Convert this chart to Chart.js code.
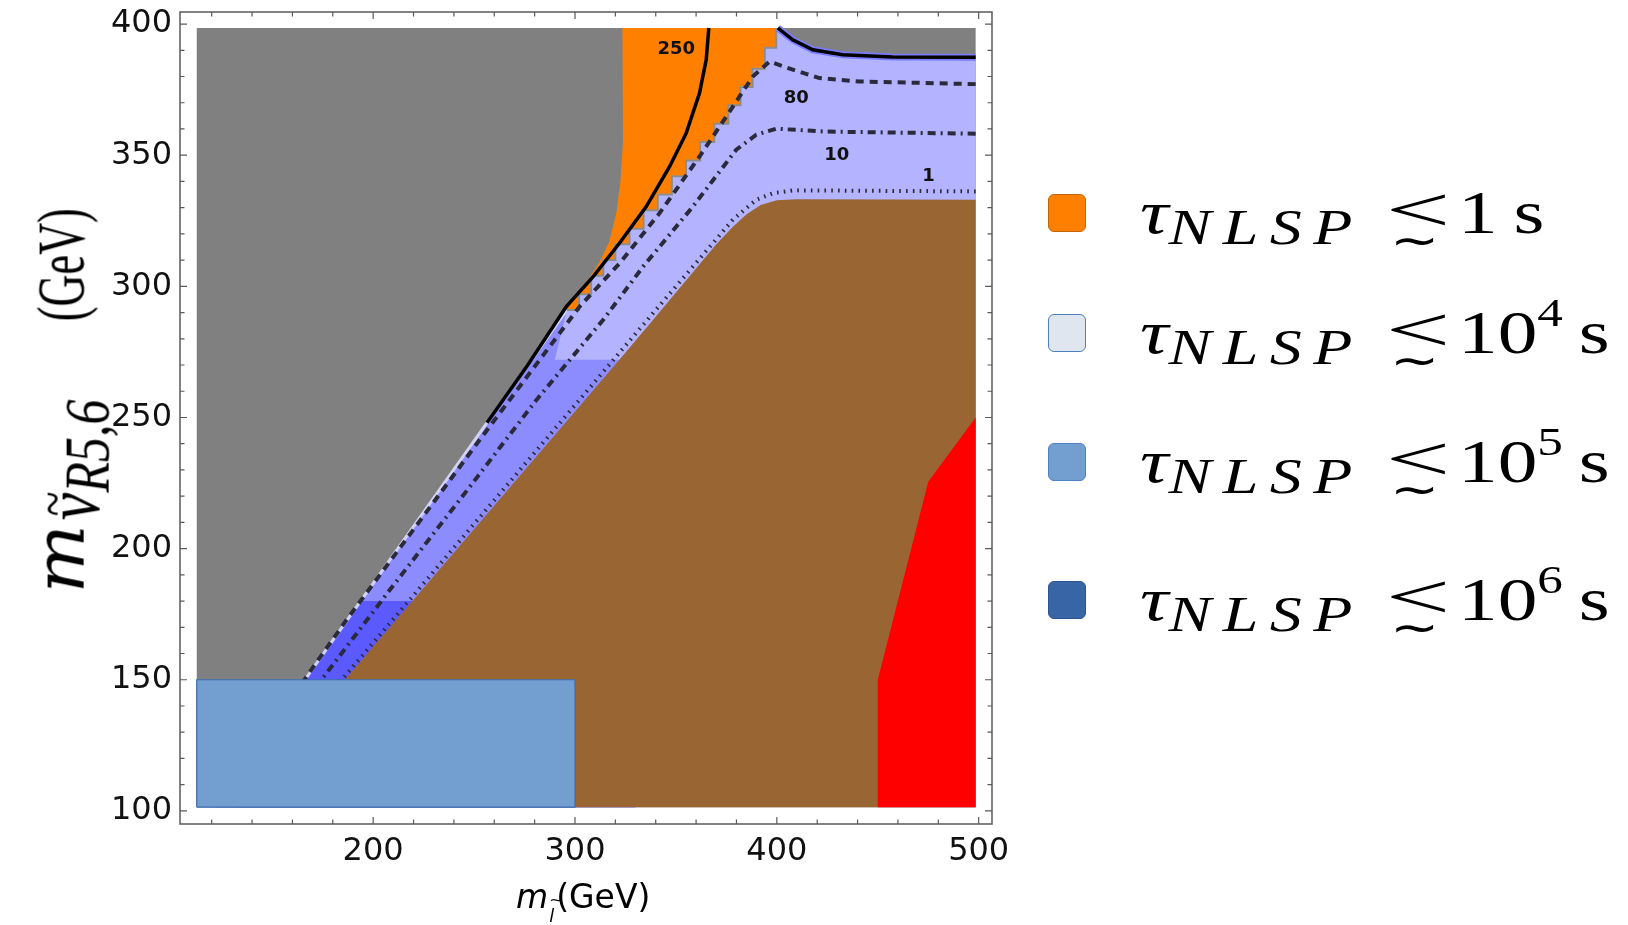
<!DOCTYPE html>
<html>
<head>
<meta charset="utf-8">
<script src="https://cdn.jsdelivr.net/npm/chart.js@4.4.1/dist/chart.umd.min.js"></script>
<style>
  html, body { margin: 0; padding: 0; background: #fff; }
  #wrap { position: relative; width: 1628px; height: 925px; overflow: hidden; }
  #plot { position: absolute; left: 0; top: 0; }
  .ytitle {
    position: absolute; left: 58px; top: 401px;
    transform: translate(-50%, -50%) scaleX(1.25) rotate(-90deg);
    font-family: "Liberation Serif", serif; font-size: 46px; white-space: nowrap; color: #000;
  }
  .ytitle .m {
    display: inline-block; font-family: "DejaVu Serif", serif; font-style: italic; font-size: 56px;
    transform: scaleX(1.3); transform-origin: left bottom; margin-right: 20px;
  }
  .ytitle .nu { font-style: italic; font-size: 62px; position: relative; top: 12px; display: inline-block; }
  .ytitle .r { font-size: 50px; position: relative; top: 8px; }
  .tl { position: absolute; left: 0; right: 0; text-align: center; font-style: normal; }
  .ytitle .nu > .tl { top: -8px; font-size: 46px; left: 4px; right: auto; }
  .ytitle .gev {
    display: inline-block; font-size: 54px; margin-left: 78px; margin-right: -25px;
    transform: scaleX(0.82); transform-origin: left bottom;
  }
  .xtitle {
    position: absolute; left: 516px; top: 877px;
    font-family: "DejaVu Sans", sans-serif; font-size: 33px; color: #000; white-space: nowrap;
  }
  .xtitle .sub { font-size: 18px; font-style: italic; position: relative; top: 14px; display: inline-block; margin: 0 2px 0 1px; }
  .xtitle .sub > .tl { top: -15px; font-size: 16px; }
  .legend { position: absolute; left: 1048px; top: 0; }
  .legend .row { position: absolute; left: 0; height: 40px; white-space: nowrap; }
  .legend .sw { position: absolute; left: 0; top: 0; width: 36px; height: 36px; border-radius: 6px; border: 1px solid; }
  .legend .lab {
    position: absolute; left: 92px; top: -17px;
    transform: scaleX(1.28); transform-origin: left center;
    font-family: "Liberation Serif", serif; font-size: 62px; color: #000;
  }
  .legend .tau { font-style: italic; }
  .legend .sub { font-style: italic; font-size: 50px; letter-spacing: 9px; position: relative; top: 11px; }
  .legend .le { display: inline-block; position: relative; width: 42px; margin: 0 14px 0 2px; }
  .legend .le .lt {
    display: block; font-size: 64px; line-height: 1; position: relative; top: -2px;
    transform: scaleX(1.4); transform-origin: left center;
  }
  .legend .le .sim {
    position: absolute; left: 3px; top: 38px; font-size: 46px; line-height: 1;
  }
  .legend sup { font-size: 40px; position: relative; top: -8px; vertical-align: top; }
</style>
</head>
<body>
<div id="wrap">
  <canvas id="plot" width="1628" height="925"></canvas>
  <div class="ytitle"><span class="m">m</span><span class="nu">ν<span class="tl">~</span><span class="r"><i>R</i>5,6</span></span><span class="gev">(GeV)</span></div>
  <div class="xtitle"><i>m</i><span class="sub">l<span class="tl">~</span></span>(GeV)</div>
  <div class="legend" id="legend"></div>
</div>
<script>
// plot window in GeV
const xLimits = [104.3, 506.6];
const yLimits = [95, 404.6];
const xTickValues = [120, 140, 160, 180, 200, 220, 240, 260, 280, 300, 320, 340, 360, 380, 400, 420, 440, 460, 480, 500];
const xTickLabels = [200, 300, 400, 500];
const yTickValues = [100, 110, 120, 130, 140, 150, 160, 170, 180, 190, 200, 210, 220, 230, 240, 250, 260, 270, 280, 290,
  300, 310, 320, 330, 340, 350, 360, 370, 380, 390, 400];
const yTickLabels = [100, 150, 200, 250, 300, 350, 400];

// regions, [m_slepton, m_sneutrino]
const scanRegion = [[112.6, 101.4], [498.5, 101.4], [498.5, 398.5], [112.6, 398.5]];
const bandMid = [[121.5, 101.4], [296, 291], [330, 291], [330, 101.4]];
const bandDeep = [[121.5, 101.4], [193.8, 180], [330, 180], [330, 101.4]];
const bandEdge = [[121.5, 101.4], [296, 291]];
const orangeLeft = [[323.5, 398.5], [323.8, 355], [322.5, 340], [320.5, 328], [317, 317], [312, 309], [306, 302], [299, 295], [296, 291]];
const stairEdge = [[296, 291], [302, 291], [302, 297], [308, 297], [308, 304], [314, 304], [314, 310], [320, 310], [320, 316],
  [327, 316], [327, 322], [334, 322], [334, 329], [341, 329], [341, 335], [348, 335], [348, 342], [355, 342], [355, 348],
  [362, 348], [362, 355], [369, 355], [369, 362], [376, 362], [376, 369], [382, 369], [382, 376], [388, 376], [388, 383],
  [394, 383], [394, 391], [399.7, 391], [399.7, 398.5]];
const lightFloor = [[290, 272], [498.5, 272], [498.5, 387.3]];
const brownRegion = [[132, 101.4], [186, 150], [322, 272], [338.6, 287.2], [370, 316], [378, 322.5], [385, 327.5], [392, 331],
  [400, 332.8], [410, 333.2], [498.5, 333], [498.5, 101.4]];
const redRegion = [[450, 101.4], [450, 150], [475, 225.5], [498.5, 250], [498.5, 101.4]];
const lepBox = [[112.6, 101.4], [300, 101.4], [300, 150], [112.6, 150], [112.6, 101.4]];

// lifetime contours
const c250Left = [[366.3, 398.5], [365, 386.4], [361.7, 373.7], [355.1, 358.4], [346.9, 345.7], [335.3, 330.4], [322.1, 316.5],
  [309, 303.7], [295.7, 292.3], [276.6, 270], [256.4, 248]];
const c250Right = [[400.5, 398.5], [407.9, 394], [417.8, 390.2], [432.7, 388.3], [457.4, 387.4], [498.5, 387.3]];
const c80 = [[498.5, 377.1], [440.9, 378.1], [421.1, 379.4], [407.9, 382.6], [396.4, 385.7], [388.1, 380], [375, 364.8],
  [361.7, 349.5], [341.9, 327.9], [322.1, 308.8], [302.3, 292.3], [252.8, 241.5], [214.9, 202], [186.8, 172.8], [167, 151.2], [150, 131]];
const c10 = [[498.5, 358.2], [424.4, 359], [399.7, 360.1], [389.8, 357.8], [379.9, 352.1], [358.4, 330.4], [333.7, 307.5],
  [313.9, 287.2], [280.9, 256.7], [247.9, 223.6], [208.3, 184.3], [174.4, 150], [155, 130]];
const c1 = [[498.5, 336.2], [407.9, 336.6], [398, 335.5], [389.8, 333], [378.2, 325.4], [358.4, 307.5], [338.6, 289.7],
  [184.5, 150], [160, 128]];
const contourLabels = ["250", "80", "10", "1"];
const contourLabelX = [350.2, 409.6, 429.7, 475.2];
const contourLabelY = [390.2, 371.8, 349.8, 341.9];

// legend
const legendFill = ["#ff8000", "#dfe6ef", "#739fd0", "#3765a6"];
const legendEdge = ["#c0650c", "#4f7fbf", "#4f7fbf", "#2b5590"];
const legendPower = ["1", "10^4", "10^5", "10^6"];
const legendTop = [194, 314, 443, 581];

function pts(list) {
  return list.map(([x, y]) => ({ x, y }));
}

function area(list, color) {
  return { data: pts(list), showLine: true, fill: "shape", backgroundColor: color, borderWidth: 0, pointRadius: 0 };
}

function curve(list, color, width, dash) {
  return { data: pts(list), showLine: true, fill: false, borderColor: color, borderWidth: width,
    borderDash: dash || [], borderCapStyle: "butt", pointRadius: 0 };
}

const lightRegion = stairEdge.slice().reverse().concat(lightFloor, c250Right.slice().reverse());
const orangeRegion = orangeLeft.concat(stairEdge.slice(1));

// bottom layer first
const layers = [
  area(scanRegion, "#808080"),
  area(bandMid, "#8c8cff"),
  area(bandDeep, "#5a5aff"),
  curve(bandEdge, "#d2d2f2", 3),
  area(lightRegion, "#b3b3ff"),
  area(orangeRegion, "#ff8000"),
  curve(stairEdge, "#8d8d8d", 2),
  area(brownRegion, "#996633"),
  area(redRegion, "#ff0000"),
  curve(c1, "#2a2a3c", 4, [1.6, 5.2]),
  curve(c10, "#2a2a3c", 4, [8, 5, 2, 5]),
  curve(c80, "#2a2a3c", 4, [8, 6]),
  curve(c250Right, "#7b7bff", 7),
  curve(c250Right, "#000000", 3.5),
  curve(c250Left, "#000000", 3.5),
  Object.assign(area(lepBox, "#739fd0"), { borderWidth: 1.2, borderColor: "#3a6db0" }),
];
layers.forEach((ds, i) => { ds.order = layers.length - i; });

const frameTicks = {
  id: "frameTicks",
  afterDraw(chart) {
    const { ctx, chartArea: a, scales: { x, y } } = chart;
    ctx.save();
    ctx.strokeStyle = "#5a5a5a";
    ctx.lineWidth = 1.5;
    ctx.strokeRect(a.left, a.top, a.right - a.left, a.bottom - a.top);
    ctx.lineWidth = 1.2;
    ctx.beginPath();
    xTickValues.forEach((v) => {
      const px = x.getPixelForValue(v);
      const len = xTickLabels.includes(v) ? 7 : 4.5;
      ctx.moveTo(px, a.bottom); ctx.lineTo(px, a.bottom - len);
      ctx.moveTo(px, a.top); ctx.lineTo(px, a.top + len);
    });
    yTickValues.forEach((v) => {
      const py = y.getPixelForValue(v);
      const len = yTickLabels.includes(v) ? 7 : 4.5;
      ctx.moveTo(a.left, py); ctx.lineTo(a.left + len, py);
      ctx.moveTo(a.right, py); ctx.lineTo(a.right - len, py);
    });
    ctx.stroke();
    ctx.restore();
  },
};

const contourText = {
  id: "contourText",
  afterDatasetsDraw(chart) {
    const { ctx, scales: { x, y } } = chart;
    ctx.save();
    ctx.font = 'bold 18px "DejaVu Sans"';
    ctx.fillStyle = "#111";
    ctx.textAlign = "center";
    ctx.textBaseline = "middle";
    contourLabels.forEach((t, i) => {
      ctx.fillText(t, x.getPixelForValue(contourLabelX[i]), y.getPixelForValue(contourLabelY[i]));
    });
    ctx.restore();
  },
};

// keep the frame fixed: no extra room for the end labels
function noEdgePadding(scale) {
  scale.paddingTop = 0;
  scale.paddingBottom = 0;
  scale.paddingLeft = 0;
  scale.paddingRight = 0;
}

new Chart(document.getElementById("plot"), {
  type: "scatter",
  data: { datasets: layers },
  options: {
    responsive: false,
    animation: false,
    devicePixelRatio: 1,
    layout: { padding: { left: 0, right: 636, top: 12, bottom: 0 } },
    plugins: { legend: { display: false }, tooltip: { enabled: false } },
    scales: {
      x: {
        type: "linear", min: xLimits[0], max: xLimits[1],
        grid: { display: false, drawTicks: false }, border: { display: false },
        afterBuildTicks(scale) { scale.ticks = xTickValues.map((v) => ({ value: v })); },
        afterFit(scale) { scale.height = 101; noEdgePadding(scale); },
        ticks: {
          autoSkip: false, maxRotation: 0, padding: 8, color: "#111",
          font: { family: "DejaVu Sans", size: 32 },
          callback: (v) => (xTickLabels.includes(v) ? String(v) : ""),
        },
      },
      y: {
        type: "linear", min: yLimits[0], max: yLimits[1],
        grid: { display: false, drawTicks: false }, border: { display: false },
        afterBuildTicks(scale) { scale.ticks = yTickValues.map((v) => ({ value: v })); },
        afterFit(scale) { scale.width = 180; noEdgePadding(scale); },
        ticks: {
          autoSkip: false, padding: 8, color: "#111",
          font: { family: "DejaVu Sans", size: 32 },
          callback: (v) => (yTickLabels.includes(v) ? String(v) : ""),
        },
      },
    },
  },
  plugins: [frameTicks, contourText],
});

// legend rows
const legend = document.getElementById("legend");
legendFill.forEach((fill, i) => {
  const row = document.createElement("div");
  row.className = "row";
  row.style.top = legendTop[i] + "px";
  const [base, power] = legendPower[i].split("^");
  row.innerHTML =
    `<span class="sw" style="background:${fill};border-color:${legendEdge[i]}"></span>` +
    `<span class="lab"><span class="tau">τ</span><span class="sub">NLSP</span> ` +
    `<span class="le"><span class="lt">&lt;</span><span class="sim">∼</span></span>` +
    `${base}${power ? `<sup>${power}</sup>` : ""}&thinsp;s</span>`;
  legend.appendChild(row);
});
</script>
</body>
</html>
